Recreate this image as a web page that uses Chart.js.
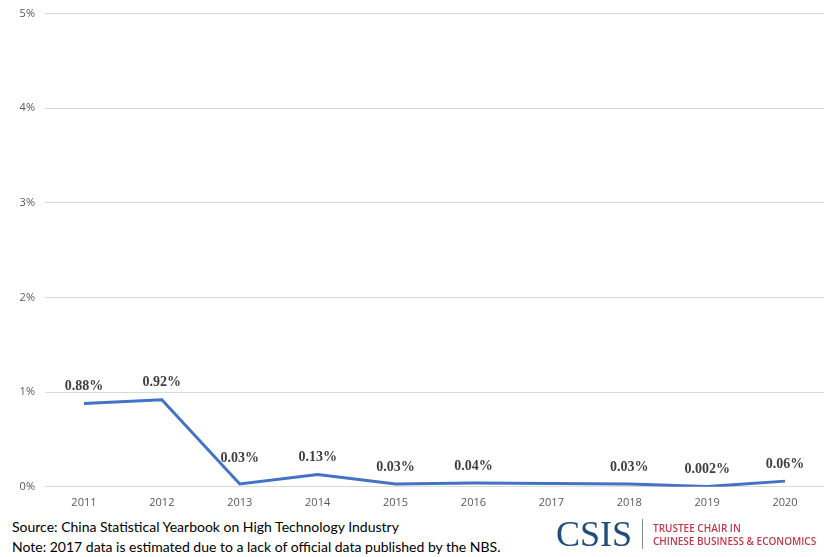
<!DOCTYPE html>
<html>
<head>
<meta charset="utf-8">
<script src="https://cdn.jsdelivr.net/npm/chart.js@4"></script>
<style>
  body { margin: 0; background: #fff; width: 840px; height: 557px; overflow: hidden; position: relative; }
  #wrap { position: absolute; left: 0; top: -3px; width: 840px; height: 521px; }
  .note { position: absolute; left: 12px; font-family: Lato, "Open Sans", sans-serif; font-size: 14px; color: #000; }
  #logo { position: absolute; left: 556px; top: 514px; height: 40px; }
  #logo .csis { position: absolute; left: 0; top: 0; font-family: "Liberation Serif", "DejaVu Serif", serif; font-size: 36px; color: #1f4e79; line-height: 40px; }
  #logo .bar { position: absolute; left: 86px; top: 5px; width: 1px; height: 30px; background: #7a8aa0; }
  #logo .chair { position: absolute; left: 97px; top: 8px; font-family: "Open Sans", sans-serif; font-weight: 600; font-size: 10px; line-height: 13px; color: #c0394b; white-space: nowrap; }
</style>
</head>
<body>
<div id="wrap"><canvas id="myChart"></canvas></div>
<div class="note" style="top:518px">Source: China Statistical Yearbook on High Technology Industry</div>
<div class="note" style="top:538px">Note: 2017 data is estimated due to a lack of official data published by the NBS.</div>
<div id="logo">
  <div class="csis">CSIS</div>
  <div class="bar"></div>
  <div class="chair">TRUSTEE CHAIR IN<br>CHINESE BUSINESS &amp; ECONOMICS</div>
</div>
<script>
// DATA
const years = ['2011', '2012', '2013', '2014', '2015', '2016', '2017', '2018', '2019', '2020'];
const shareValues = [0.88, 0.92, 0.03, 0.13, 0.03, 0.04, 0.035, 0.03, 0.002, 0.06];
const pointLabels = ['0.88%', '0.92%', '0.03%', '0.13%', '0.03%', '0.04%', '', '0.03%', '0.002%', '0.06%'];
const yTicks = [0, 1, 2, 3, 4, 5];

// etichette sopra i punti
const labelPlugin = {
  id: 'pointLabels',
  afterDatasetsDraw(chart) {
    const ctx = chart.ctx;
    const pts = chart.getDatasetMeta(0).data;
    ctx.save();
    ctx.font = 'bold 14px "Liberation Serif", serif';
    ctx.fillStyle = '#404040';
    ctx.textAlign = 'center';
    ctx.textBaseline = 'middle';
    pts.forEach((pt, i) => {
      if (!pointLabels[i]) return;
      let lift = 17;
      // se arriva da una discesa ripida alza l'etichetta per non toccare la linea
      if (i > 0 && pts[i - 1].y < pt.y - 50) lift = 26;
      ctx.fillText(pointLabels[i], pt.x, pt.y - lift);
    });
    ctx.restore();
  },
};

const ctx = document.querySelector('#myChart');
new Chart(ctx, {
  type: 'line',
  data: {
    labels: years,
    datasets: [
      {
        data: shareValues,
        borderColor: '#4472c4',
        borderWidth: 3,
        pointRadius: 0,
        tension: 0,
        fill: false,
      },
    ],
  },
  options: {
    responsive: true,
    maintainAspectRatio: false,
    animation: false,
    layout: { padding: { top: 9, right: 16, left: 0, bottom: 0 } },
    plugins: { legend: { display: false }, tooltip: { enabled: false } },
    scales: {
      x: {
        offset: true,
        grid: { display: false, drawTicks: false },
        border: { display: false },
        ticks: { color: '#595959', font: { family: '"Open Sans", sans-serif', size: 11 }, padding: 9 },
      },
      y: {
        min: 0,
        max: 5,
        afterBuildTicks(scale) {
          scale.ticks = yTicks.map((v) => ({ value: v }));
        },
        afterFit(scale) {
          scale.width = 45;
        },
        grid: { color: '#d9d9d9', drawTicks: false },
        border: { display: false },
        ticks: {
          color: '#595959',
          font: { family: '"Open Sans", sans-serif', size: 11 },
          padding: 10,
          callback: (v) => v + '%',
        },
      },
    },
  },
  plugins: [labelPlugin],
});
</script>
</body>
</html>
